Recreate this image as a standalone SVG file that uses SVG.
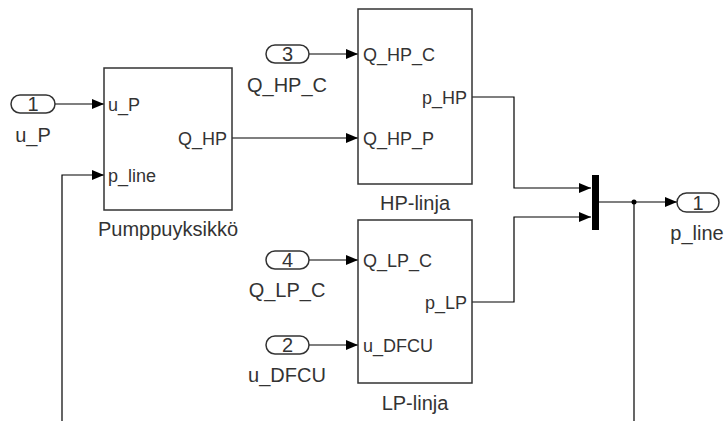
<svg xmlns="http://www.w3.org/2000/svg" width="724" height="421" viewBox="0 0 724 421">
<style>
.blk{fill:#fff;stroke:#333;stroke-width:1.5}
.pill{fill:#fff;stroke:#333;stroke-width:1.5}
.t{font-family:"Liberation Sans",Arial,sans-serif;fill:#333}
.pl{font-size:18px}
.lb{font-size:20px;text-anchor:middle}
.num{font-size:20px;text-anchor:middle}
.w{fill:none;stroke:#000;stroke-width:1.2}
</style>
<defs>
<marker id="arr" viewBox="0 0 12 10" refX="12" refY="5" markerWidth="12" markerHeight="10" orient="auto" markerUnits="userSpaceOnUse"><path d="M0,0 L12,5 L0,10 z" fill="#000"/></marker>
</defs>
<g id="connectors">
<path class="w" d="M55,104 H104" marker-end="url(#arr)"/>
<path class="w" d="M309,54 H358" marker-end="url(#arr)"/>
<path class="w" d="M232,138 H358" marker-end="url(#arr)"/>
<path class="w" d="M309,260 H358" marker-end="url(#arr)"/>
<path class="w" d="M309,345 H358" marker-end="url(#arr)"/>
<path class="w" d="M472,97 H514 V188 H591" marker-end="url(#arr)"/>
<path class="w" d="M472,302 H514 V217 H591" marker-end="url(#arr)"/>
<path class="w" d="M599,202 H677" marker-end="url(#arr)"/>
<path class="w" d="M634,202 V425"/>
<path class="w" d="M62,425 V175 H104" marker-end="url(#arr)"/>
<circle cx="634" cy="202" r="2.5" fill="#000"/>
</g>
<g id="in1">
<rect class="pill" x="11" y="95" width="44" height="18" rx="9"/>
<text class="t num" x="33" y="111">1</text>
<text class="t lb" x="33" y="142">u_P</text>
</g>
<g id="in3">
<rect class="pill" x="266" y="45" width="43" height="18" rx="9"/>
<text class="t num" x="287.5" y="61">3</text>
<text class="t lb" x="287" y="92">Q_HP_C</text>
</g>
<g id="in4">
<rect class="pill" x="266" y="251" width="43" height="18" rx="9"/>
<text class="t num" x="287.5" y="267">4</text>
<text class="t lb" x="287" y="297">Q_LP_C</text>
</g>
<g id="in2">
<rect class="pill" x="266" y="336" width="43" height="18" rx="9"/>
<text class="t num" x="287.5" y="352">2</text>
<text class="t lb" x="287" y="382">u_DFCU</text>
</g>
<g id="pump">
<rect class="blk" x="104" y="68" width="128" height="142"/>
<text class="t pl" x="108" y="111">u_P</text>
<text class="t pl" x="227" y="145" text-anchor="end">Q_HP</text>
<text class="t pl" x="108" y="182">p_line</text>
<text class="t lb" x="168" y="236">Pumppuyksikkö</text>
</g>
<g id="hp">
<rect class="blk" x="358" y="9" width="114" height="175"/>
<text class="t pl" x="363" y="61">Q_HP_C</text>
<text class="t pl" x="363" y="145">Q_HP_P</text>
<text class="t pl" x="467" y="104" text-anchor="end">p_HP</text>
<text class="t lb" x="415" y="210">HP-linja</text>
</g>
<g id="lp">
<rect class="blk" x="358" y="220" width="114" height="163"/>
<text class="t pl" x="363" y="267">Q_LP_C</text>
<text class="t pl" x="363" y="352">u_DFCU</text>
<text class="t pl" x="467" y="309" text-anchor="end">p_LP</text>
<text class="t lb" x="415" y="410">LP-linja</text>
</g>
<g id="mux">
<rect x="592" y="175" width="7" height="55" fill="#000"/>
</g>
<g id="out1">
<rect class="pill" x="677" y="193" width="42" height="19" rx="9.5"/>
<text class="t num" x="698" y="210">1</text>
<text class="t lb" x="697" y="240">p_line</text>
</g>
</svg>
